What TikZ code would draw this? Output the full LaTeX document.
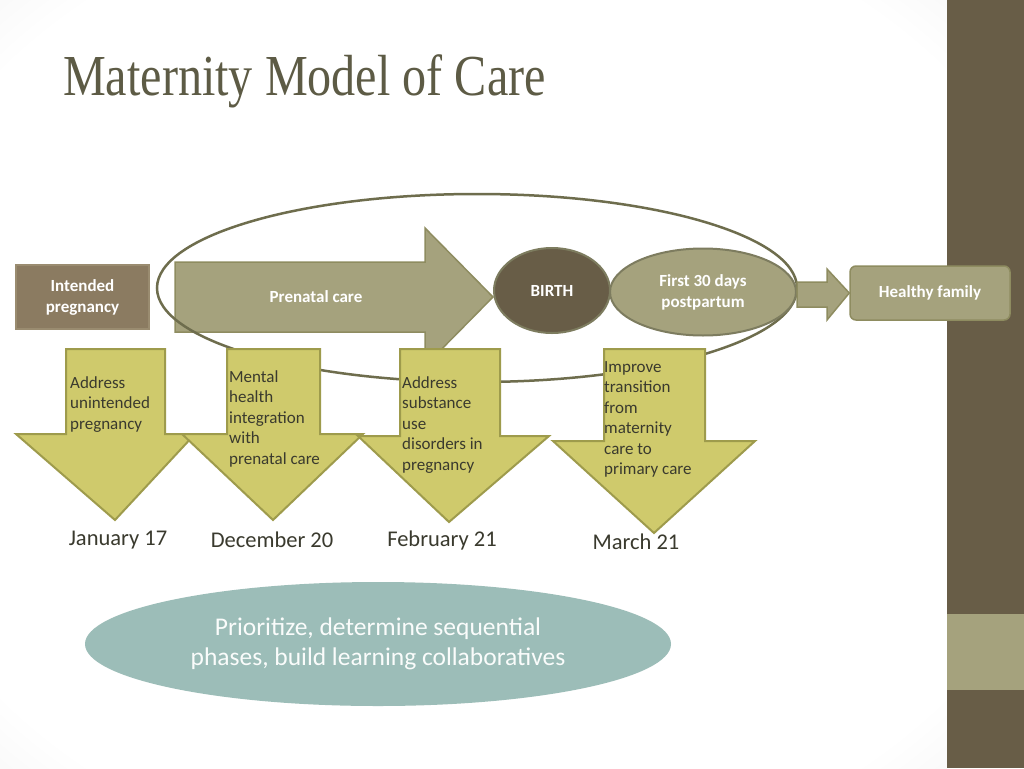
\documentclass[tikz,border=0pt]{standalone}
\usepackage{fontspec}
\setmainfont{Carlito}
\newfontfamily\titlefont[FakeStretch=0.83]{Liberation Serif}
\usetikzlibrary{shapes.geometric,positioning}

\definecolor{bark}{HTML}{685D47}
\definecolor{sand}{HTML}{A5A27D}
\definecolor{sandline}{HTML}{8E8C60}
\definecolor{cocoa}{HTML}{8B7B61}
\definecolor{cocoaline}{HTML}{9A8C70}
\definecolor{loopline}{HTML}{6E6D4D}
\definecolor{mustard}{HTML}{CFCA6C}
\definecolor{mustardline}{HTML}{9E9B4C}
\definecolor{seafoam}{HTML}{9CBDB8}
\definecolor{ink}{HTML}{3A3A2E}
\definecolor{titleink}{HTML}{5D5B45}

\pgfdeclareradialshading{slidebg}{\pgfpoint{0bp}{0bp}}{color(0bp)=(white); color(32bp)=(white); color(50bp)=(black!11)}

\begin{document}
\begin{tikzpicture}[x=1pt,y=-1pt,
  every node/.style={align=center, inner sep=0pt},
  whitebold/.style={text=white, font=\bfseries\fontsize{17}{21}\selectfont},
  topbox/.style={draw=sandline, fill=sand, line width=1.5pt, whitebold},
  downarrow/.style={draw=mustardline, fill=mustard, line width=2pt, line join=miter},
  downtext/.style={anchor=north west, align=left, text=ink,
     font=\fontsize{17}{20.5}\selectfont},
  datelabel/.style={text=ink, font=\fontsize{22.5}{26}\selectfont}]
\useasboundingbox (0,0) rectangle (1024,768);
% slide background
\shade[shading=slidebg] (0,0) rectangle (947,768);
\fill[bark] (947,0) rectangle (1024,768);
\fill[sand] (947,614) rectangle (1024,690);

\node[anchor=base west, text=titleink, font=\titlefont\fontsize{58}{62}\selectfont]
  (title) at (63,95) {Maternity Model of Care};

% top row
\node[draw=cocoaline, fill=cocoa, line width=1.5pt, whitebold,
  minimum width=133pt, minimum height=64pt] (intended) at (82.5,297)
  {Intended\\pregnancy};
\draw[topbox] (175,262) -- (425,262) -- (425,228) -- (493,297)
  -- (425,366) -- (425,332) -- (175,332) -- cycle;
\node[whitebold] (prenatal) at (316,297) {Prenatal care};

% the loop round the birth period
\draw[loopline, line width=2.5pt] (477,288) ellipse [x radius=320, y radius=94];

\node[ellipse, draw=loopline!90, fill=bark, line width=2pt, whitebold,
  minimum width=116pt, minimum height=85pt] (birth) at (552,290.5) {BIRTH};
\node[ellipse, draw=loopline!90, fill=sand, line width=2pt, whitebold,
  minimum width=186pt, minimum height=87pt] (post) at (703,292)
  {First 30 days\\postpartum};
\node[topbox, rounded corners=6pt, minimum width=160pt, minimum height=54pt]
  (healthy) at (930,293) {Healthy family};
\draw[topbox] (post.east |- 0,282) -- (827,282) -- (827,269) -- (healthy.west)
  -- (827,320) -- (827,307) -- (post.east |- 0,307) -- cycle;

% phases
\draw[downarrow] (66,349) -- (165,349) -- (165,434) -- (195,434) -- (115,520)
  -- (16,434) -- (66,434) -- cycle;
\draw[downarrow] (227,349) -- (320,349) -- (320,434) -- (363,434) -- (273,520)
  -- (182,434) -- (227,434) -- cycle;
\draw[downarrow] (400,349) -- (500,349) -- (500,436) -- (549,436) -- (449,522)
  -- (358,436) -- (400,436) -- cycle;
\draw[downarrow] (604,349) -- (705,349) -- (705,441) -- (755,441) -- (654,533)
  -- (553,441) -- (604,441) -- cycle;

\node[downtext] (phaseA) at (70,376) {Address\\unintended\\pregnancy};
\node[downtext] (phaseB) at (229,370) {Mental\\health\\integration\\with\\prenatal care};
\node[downtext] (phaseC) at (402,376) {Address\\substance\\use\\disorders in\\pregnancy};
\node[downtext] (phaseD) at (604,361) {Improve\\transition\\from\\maternity\\care to\\primary care};

\node[datelabel] (dateA) at (118,540) {January 17};
\node[datelabel] (dateB) at (272,540) {December 20};
\node[datelabel] (dateC) at (442,540) {February 21};
\node[datelabel] (dateD) at (636,542) {March 21};

% summary
\node[ellipse, fill=seafoam, minimum width=586pt, minimum height=124pt,
  text=white!95!seafoam, font=\fontsize{25.5}{30}\selectfont] (summary) at (378,644)
  {Prioritize, determine sequential\\phases, build learning collaboratives};
\end{tikzpicture}
\end{document}
